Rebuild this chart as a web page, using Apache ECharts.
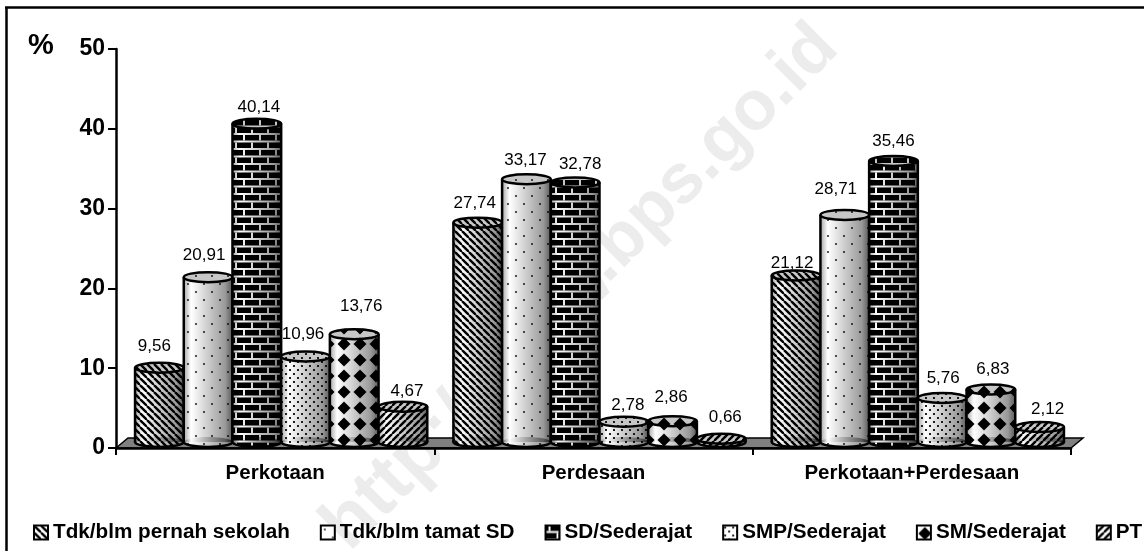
<!DOCTYPE html>
<html>
<head>
<meta charset="utf-8">
<style>html,body{margin:0;padding:0;background:#fff}#c{width:1144px;height:551px}</style>
<script src="https://cdn.jsdelivr.net/npm/echarts@6/dist/echarts.min.js"></script>
</head>
<body>
<div id="c"></div>
<script>
const categories = ['Perkotaan', 'Perdesaan', 'Perkotaan+Perdesaan'];
const seriesNames = ['Tdk/blm pernah sekolah', 'Tdk/blm tamat SD', 'SD/Sederajat', 'SMP/Sederajat', 'SM/Sederajat', 'PT'];
const tdkPernah = [9.56, 27.74, 21.12];
const tdkTamat = [20.91, 33.17, 28.71];
const sd = [40.14, 32.78, 35.46];
const smp = [10.96, 2.78, 5.76];
const sm = [13.76, 2.86, 6.83];
const pt = [4.67, 0.66, 2.12];
const seriesValues = [tdkPernah, tdkTamat, sd, smp, sm, pt];
// label nudges by series then category (hand-placed labels in the source chart)
const labelDx = [[-5,-3,-4],[-4,-1,-9],[2,5,0],[-2.5,4,1],[7,-1.5,2],[4,4,8]];
const labelDy = [[-21.7,-19.6,-12.5],[-22,-19.3,-25.9],[-16.7,-18.4,-20],[-22.5,-16.8,-20],[-28.2,-24.2,-20.5],[-15.7,-21.7,-18]];
const yTicks = {min: 0, max: 50, interval: 10};

function tile(w, h, draw) {
  const c = document.createElement('canvas');
  c.width = w; c.height = h;
  const g = c.getContext('2d');
  g.fillStyle = '#fff'; g.fillRect(0, 0, w, h);
  g.fillStyle = '#000'; g.strokeStyle = '#000';
  draw(g);
  return c;
}
function hatch(dir) {
  return tile(7, 7, g => {
    g.lineWidth = 2.4;
    for (let i = -7; i <= 14; i += 7) {
      g.beginPath();
      if (dir > 0) { g.moveTo(i, 0); g.lineTo(i + 7, 7); }
      else { g.moveTo(i + 7, 0); g.lineTo(i, 7); }
      g.stroke();
    }
  });
}
const patterns = [
  hatch(1),
  tile(16, 16, g => { g.fillStyle = '#555';
    g.fillRect(3, 3, 2, 2); g.fillRect(11, 11, 2, 2); }),
  tile(16, 15, g => {
    g.fillStyle = '#000'; g.fillRect(0, 0, 16, 15);
    g.fillStyle = '#fff';
    g.fillRect(0, 5.5, 16, 2); g.fillRect(0, 13, 16, 2);
    g.fillRect(3, 0, 2, 5.5); g.fillRect(11, 7.5, 2, 5.5);
  }),
  tile(8, 8, g => { g.fillStyle = '#222';
    g.fillRect(1, 1, 2, 2); g.fillRect(5, 5, 2, 2); }),
  tile(16, 16, g => {
    g.beginPath(); g.moveTo(8, 1.5); g.lineTo(14.5, 8); g.lineTo(8, 14.5); g.lineTo(1.5, 8); g.closePath(); g.fill();
  }),
  hatch(-1)
];
const toFill = p => ({image: p, repeat: 'repeat'});

const shade = {
  type: 'linear', x: 0, y: 0, x2: 1, y2: 0,
  colorStops: [
    {offset: 0, color: 'rgba(0,0,0,0.35)'},
    {offset: 0.15, color: 'rgba(0,0,0,0)'},
    {offset: 0.5, color: 'rgba(0,0,0,0.2)'},
    {offset: 0.85, color: 'rgba(0,0,0,0.4)'},
    {offset: 1, color: 'rgba(0,0,0,0.65)'}
  ]
};

const DEPTH_X = 12, DEPTH_Y = 10, SLOTS = 6, RY = 5;
function cylinder(sIdx) {
  return function (params, api) {
    const cat = api.value(0), val = api.value(1);
    const band = api.size([1, 0])[0];
    const base = api.coord([cat, 0]);
    const top = api.coord([cat, val]);
    const inner = band * 0.918;               // 292 of 318 px per group
    const w = inner / SLOTS;
    const x0 = base[0] - inner / 2 + DEPTH_X / 2 + w * sIdx;
    const cx = x0 + w / 2;
    const yb = base[1] - DEPTH_Y / 2 - 1;
    const yt = top[1] - DEPTH_Y / 2 + 1;
    const fill = toFill(patterns[sIdx]);
    const rx = w / 2;
    return {
      type: 'group',
      children: [
        {type: 'ellipse', shape: {cx, cy: yb, rx, ry: RY}, style: {fill, stroke: '#000', lineWidth: 2.5}},
        {type: 'rect', shape: {x: x0, y: yt, width: w, height: yb - yt}, style: {fill}},
        {type: 'ellipse', shape: {cx, cy: yb, rx, ry: RY}, style: {fill: shade}},
        {type: 'rect', shape: {x: x0, y: yt, width: w, height: yb - yt}, style: {fill: shade}},
        {type: 'line', shape: {x1: x0, y1: yt, x2: x0, y2: yb}, style: {stroke: '#000', lineWidth: 2.5}},
        {type: 'line', shape: {x1: x0 + w, y1: yt, x2: x0 + w, y2: yb}, style: {stroke: '#000', lineWidth: 2.5}},
        {type: 'ellipse', shape: {cx, cy: yt, rx, ry: RY}, style: {fill}},
        {type: 'ellipse', shape: {cx, cy: yt, rx, ry: RY}, style: {fill: 'rgba(0,0,0,0.22)', stroke: '#000', lineWidth: 2.5}},
        {type: 'text', z2: 10, style: {
          text: String(val.toFixed(2)).replace('.', ','),
          x: cx + labelDx[sIdx][cat], y: yt + labelDy[sIdx][cat],
          align: 'center', verticalAlign: 'middle',
          font: '17px "Liberation Sans", Arial, sans-serif', fill: '#000'
        }}
      ]
    };
  };
}

const barSeries = seriesNames.map((name, i) => ({
  name, type: 'custom', coordinateSystem: 'cartesian2d', z: 3 + i,
  encode: {x: 0, y: 1},
  data: seriesValues[i].map((v, c) => [c, v]),
  itemStyle: {color: toFill(patterns[i]), borderColor: '#000', borderWidth: 2.5},
  renderItem: cylinder(i),
  clip: false, silent: true
}));

const floorSeries = {
  name: 'floor', type: 'custom', coordinateSystem: 'cartesian2d', z: 1, silent: true,
  data: [[0, 0]], encode: {x: 0, y: 1}, clip: false,
  renderItem(params, api) {
    const r = params.coordSys;
    const y = r.y + r.height, x = r.x, x2 = r.x + r.width;
    return {type: 'polygon', shape: {points: [[x, y], [x + DEPTH_X, y - DEPTH_Y], [x2 + DEPTH_X, y - DEPTH_Y], [x2, y]]},
      style: {fill: '#808080', stroke: '#000', lineWidth: 1.5}};
  }
};

const BOLD = '"Liberation Sans", Arial, sans-serif';
const chart = echarts.init(document.getElementById('c'), null, {renderer: 'canvas'});
chart.setOption({
  animation: false,
  backgroundColor: '#fff',
  textStyle: {fontFamily: BOLD},
  grid: {left: 116, top: 49, width: 955, height: 399, containLabel: false},
  xAxis: {
    type: 'category', data: categories, boundaryGap: true, z: 20,
    axisLine: {show: true, onZero: false, lineStyle: {color: '#000', width: 2.5}},
    axisTick: {show: true, length: 7, lineStyle: {color: '#000', width: 2}, alignWithLabel: false},
    axisLabel: {color: '#000', fontWeight: 'bold', fontSize: 20.5, margin: 15, fontFamily: BOLD},
    splitLine: {show: false}
  },
  yAxis: {
    type: 'value', min: yTicks.min, max: yTicks.max, interval: yTicks.interval, z: 20,
    axisLine: {show: true, lineStyle: {color: '#000', width: 2.5}},
    axisTick: {show: true, length: 8, lineStyle: {color: '#000', width: 2}},
    axisLabel: {color: '#000', fontWeight: 'bold', fontSize: 23, margin: 11, fontFamily: BOLD},
    splitLine: {show: false}
  },
  legend: {
    show: true, left: 28, top: 517, width: 1130, padding: [5, 0, 5, 5], orient: 'horizontal', itemGap: 30, itemWidth: 14, itemHeight: 14,
    data: seriesNames.map(n => ({name: n, icon: 'rect'})),
    selectedMode: false,
    textStyle: {color: '#000', fontWeight: 'bold', fontSize: 20.7, fontFamily: BOLD, padding: [0, 0, 0, 0]}
  },
  graphic: [
    {type: 'text', z: -10, silent: true, rotation: Math.PI / 4, x: 335, y: 538,
      style: {text: 'http://www', font: 'bold 74px ' + BOLD, fill: '#ececec', align: 'left', verticalAlign: 'middle'}},
    {type: 'text', z: -10, silent: true, rotation: Math.PI / 4, x: 593.5, y: 270.5,
      style: {text: '.bps.go.id', font: 'bold 70px ' + BOLD, fill: '#ececec', align: 'left', verticalAlign: 'middle'}},
    {type: 'line', silent: true, shape: {x1: 5, y1: 7.5, x2: 1144, y2: 7.5}, style: {stroke: '#000', lineWidth: 2.5}},
    {type: 'line', silent: true, shape: {x1: 6.5, y1: 7, x2: 6.5, y2: 551}, style: {stroke: '#000', lineWidth: 2.5}},
    {type: 'text', silent: true, x: 28, y: 31, style: {text: '%', font: 'bold 29px ' + BOLD, fill: '#000'}}
  ],
  series: [floorSeries].concat(barSeries)
});
</script>
</body>
</html>
